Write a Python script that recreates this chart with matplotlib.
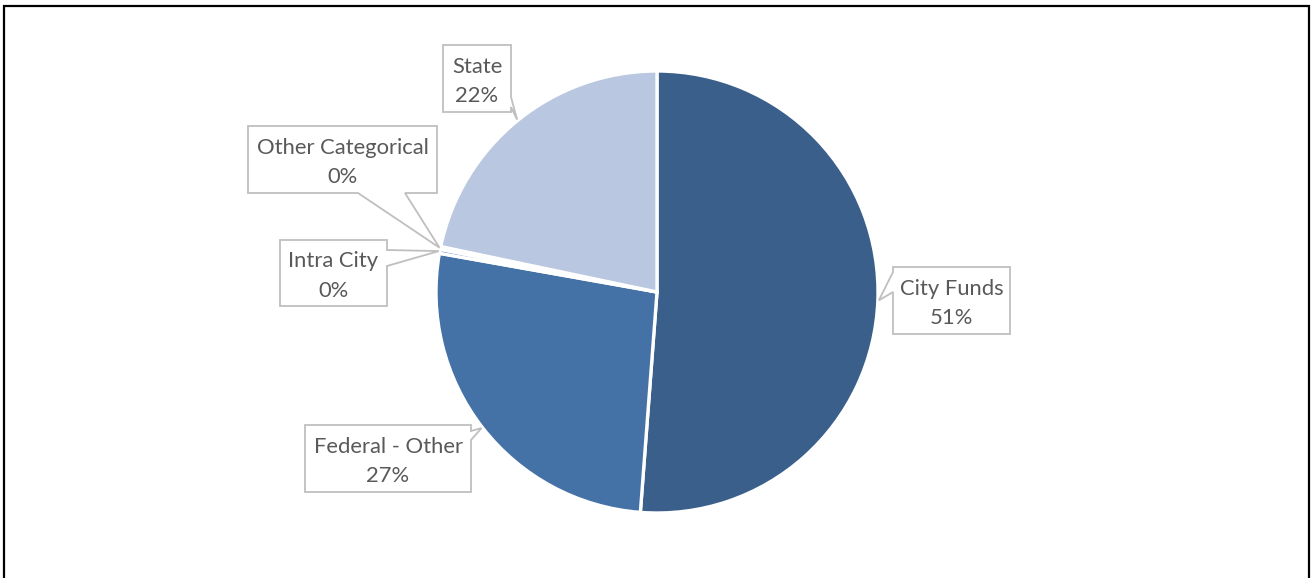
import numpy as np
import matplotlib.pyplot as plt
from matplotlib.patches import Polygon, Rectangle

W, H = 1312, 578

sources = ["City Funds", "Federal - Other", "Intra City", "Other Categorical", "State"]
shares = [51.2, 26.6, 0.3, 0.2, 21.7]
colors = ["#3A5F8B", "#4472A7", "#7F9CCF", "#A3B6DB", "#B9C7E1"]

# callout boxes: (left, top, right, bottom) in pixels, edge the pointer leaves from, span on that edge
callouts = {
    "City Funds": ((893, 267, 1010, 334), "left", (272, 292)),
    "Federal - Other": ((305, 425, 471, 492), "right", (431, 440)),
    "Intra City": ((280, 240, 387, 306), "right", (250, 266)),
    "Other Categorical": ((248, 126, 437, 193), "bottom", (358, 405)),
    "State": ((443, 45, 511, 112), "right", (97, 107)),
}

plt.rcParams["font.family"] = ["Lato", "DejaVu Sans"]

center = (657, 292)
radius = 221


def callout_shape(box, side, span, tip):
    x0, y0, x1, y1 = box
    a, b = span
    pts = [(x0, y0), (x1, y0)]
    if side == "right":
        pts += [(x1, a), tip, (x1, b)]
    pts += [(x1, y1)]
    if side == "bottom":
        pts += [(b, y1), tip, (a, y1)]
    pts += [(x0, y1)]
    if side == "left":
        pts += [(x0, b), tip, (x0, a)]
    return pts


fig = plt.figure(figsize=(W / 100, H / 100), dpi=100)
ax = fig.add_axes([0, 0, 1, 1])

# y axis runs downward, so counterclock in data space turns clockwise on screen
wedges, _ = ax.pie(shares, colors=colors, startangle=-90, counterclock=True,
                   center=center, radius=radius,
                   wedgeprops=dict(edgecolor="white", linewidth=2.4))

ax.set_xlim(0, W)
ax.set_ylim(H, 0)
ax.set_aspect("equal")
ax.axis("off")

for w, name, share in zip(wedges, sources, shares):
    mid = np.deg2rad((w.theta1 + w.theta2) / 2)
    tip = (center[0] + (radius + 1) * np.cos(mid), center[1] + (radius + 1) * np.sin(mid))
    box, side, span = callouts[name]
    ax.add_patch(Polygon(callout_shape(box, side, span, tip), closed=True,
                         facecolor="white", edgecolor="#BFBFBF", linewidth=1.3, zorder=3))
    ax.text((box[0] + box[2]) / 2, (box[1] + box[3]) / 2 + 3, f"{name}\n{share:.0f}%",
            ha="center", va="center", fontsize=15.8, color="#595959",
            linespacing=1.6, zorder=4)

# outer chart frame
fig.patches.append(Rectangle((4 / W, -0.1), 1305 / W, 1.1 - 6 / H, transform=fig.transFigure,
                             fill=False, edgecolor="black", linewidth=1.6))

fig.savefig("out.png", dpi=100)
